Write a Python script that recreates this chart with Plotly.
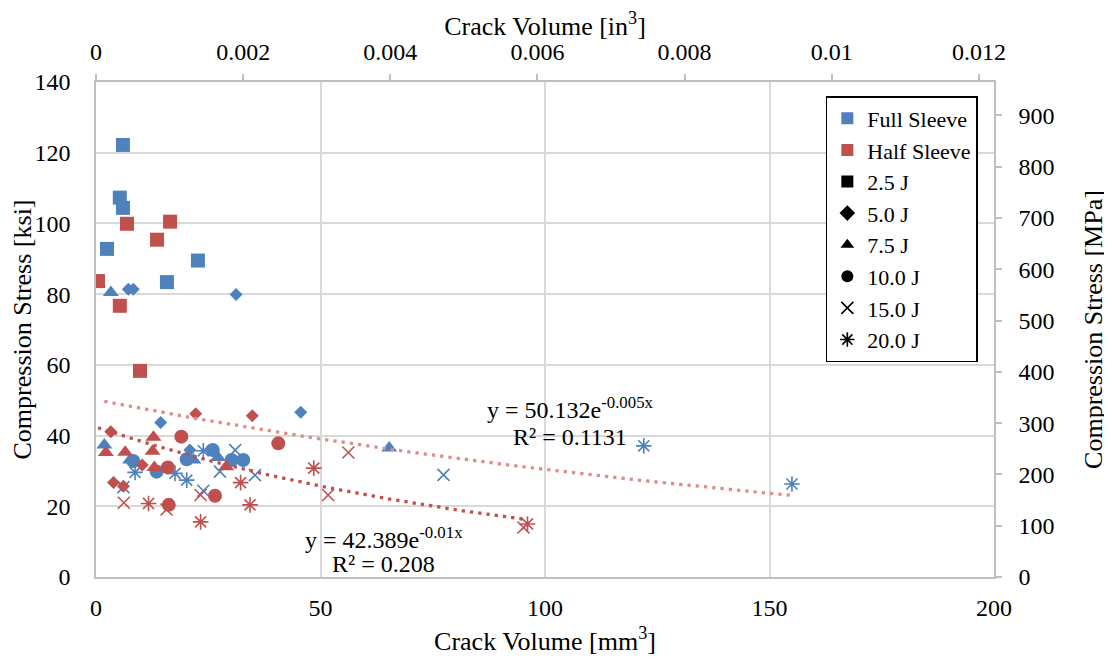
import numpy as np
import plotly.graph_objects as go

# ---------------- data (crack volume mm^3, stress ksi) ----------------
energies = ["2.5 J", "5.0 J", "7.5 J", "10.0 J", "15.0 J", "20.0 J"]

full_x = {
    "2.5 J": [6.0, 5.3, 6.0, 2.45, 22.7, 15.8],
    "5.0 J": [7.2, 8.3, 31.2, 45.6, 14.4, 20.9],
    "7.5 J": [3.3, 1.85, 7.6, 21.7, 27.2, 65.3],
    "10.0 J": [8.3, 13.5, 20.2, 26.0, 30.2, 32.8],
    "15.0 J": [31.0, 27.6, 35.4, 6.1, 23.9, 77.4],
    "20.0 J": [23.9, 8.7, 17.6, 20.2, 122.0, 155.0],
}
full_y = {
    "2.5 J": [122.2, 107.3, 104.4, 92.8, 89.5, 83.4],
    "5.0 J": [81.4, 81.4, 79.9, 46.6, 43.7, 35.9],
    "7.5 J": [80.5, 37.3, 33.1, 33.1, 33.8, 36.5],
    "10.0 J": [32.8, 29.8, 33.3, 35.9, 33.1, 33.1],
    "15.0 J": [35.9, 29.8, 28.8, 25.4, 24.4, 28.9],
    "20.0 J": [35.7, 29.6, 29.3, 27.4, 37.1, 26.3],
}
half_x = {
    "2.5 J": [6.9, 16.5, 13.6, 0.45, 5.3, 9.8],
    "5.0 J": [22.2, 34.8, 3.3, 10.3, 3.9, 6.1],
    "7.5 J": [12.8, 2.2, 6.5, 12.6, 29.0, 13.0],
    "10.0 J": [19.0, 40.6, 16.0, 26.5, 16.2],
    "15.0 J": [56.2, 51.7, 23.3, 6.2, 15.7, 95.2],
    "20.0 J": [48.5, 32.2, 11.7, 34.3, 23.3, 96.1],
}
half_y = {
    "2.5 J": [99.9, 100.5, 95.4, 83.7, 76.7, 58.3],
    "5.0 J": [46.2, 45.6, 41.1, 31.7, 26.7, 25.7],
    "7.5 J": [39.5, 35.2, 35.3, 35.6, 31.2, 31.0],
    "10.0 J": [39.7, 37.8, 31.0, 23.0, 20.4],
    "15.0 J": [35.2, 23.2, 23.2, 21.0, 19.1, 14.0],
    "20.0 J": [30.8, 26.7, 20.8, 20.4, 15.6, 15.0],
}

# exponential trendlines shown on chart: y = a * exp(b x)
full_fit = {"a": 50.132, "b": -0.005, "r2": "0.1131"}
half_fit = {"a": 42.389, "b": -0.01, "r2": "0.208"}

x_range = [0, 200]
y_range = [0, 140]
MM3_PER_IN3 = 16387.064
MPA_PER_KSI = 6.894757

BLUE = "#4F81BD"
RED = "#C0504D"
FIT_FULL = "#E08C8B"
FIT_HALF = "#C0504D"
FONT = "Liberation Serif, Times New Roman, serif"

symbols = {
    "2.5 J": ("square", 14, 0),
    "5.0 J": ("diamond", 10, 0),
    "7.5 J": ("triangle-up", 14, 0),
    "10.0 J": ("circle", 14, 0),
    "15.0 J": ("x-thin-open", 12, 1.6),
    "20.0 J": ("asterisk-open", 13, 1.6),
}

fig = go.Figure()


def add_group(xs, ys, color):
    for e in energies:
        sym, size, lw = symbols[e]
        marker = dict(symbol=sym, size=size, color=color)
        if lw:
            marker["line"] = dict(color=color, width=lw)
        else:
            marker["line"] = dict(width=0)
        fig.add_trace(go.Scatter(x=xs[e], y=ys[e], mode="markers", marker=marker,
                                 showlegend=False, hoverinfo="x+y"))


add_group(full_x, full_y, BLUE)
add_group(half_x, half_y, RED)


def add_fit(xs, fit, color):
    allx = [v for e in energies for v in xs[e]]
    xx = np.linspace(min(allx), max(allx), 200)
    yy = fit["a"] * np.exp(fit["b"] * xx)
    fig.add_trace(go.Scatter(x=xx, y=yy, mode="lines",
                             line=dict(color=color, width=3.3, dash="3.3px,5px"),
                             showlegend=False, hoverinfo="skip"))


add_fit(full_x, full_fit, FIT_FULL)
add_fit(half_x, half_fit, FIT_HALF)

# legend entries
fig.add_trace(go.Scatter(x=[None], y=[None], mode="markers", name="Full Sleeve",
                         marker=dict(symbol="square", size=12, color=BLUE)))
fig.add_trace(go.Scatter(x=[None], y=[None], mode="markers", name="Half Sleeve",
                         marker=dict(symbol="square", size=12, color=RED)))
for e in energies:
    sym, size, lw = symbols[e]
    m = dict(symbol=sym, size=12, color="black")
    if lw:
        m["line"] = dict(color="black", width=1.6)
    fig.add_trace(go.Scatter(x=[None], y=[None], mode="markers", name=e, marker=m))

# invisible anchors so secondary axes are drawn
fig.add_trace(go.Scatter(x=[0], y=[0], xaxis="x2", yaxis="y", mode="markers",
                         marker=dict(opacity=0), showlegend=False, hoverinfo="skip"))
fig.add_trace(go.Scatter(x=[0], y=[0], xaxis="x", yaxis="y2", mode="markers",
                         marker=dict(opacity=0), showlegend=False, hoverinfo="skip"))

ann_font = dict(family=FONT, size=24, color="black")
annotations = [
    dict(x=105.6, y=47.8, text="y = %.3fe<sup>%gx</sup>" % (full_fit["a"], full_fit["b"])),
    dict(x=105.6, y=39.6, text="R² = " + full_fit["r2"]),
    dict(x=64.1, y=11.0, text="y = %.3fe<sup>%gx</sup>" % (half_fit["a"], half_fit["b"])),
    dict(x=64.1, y=3.7, text="R² = " + half_fit["r2"]),
]
for a in annotations:
    a.update(xref="x", yref="y", showarrow=False, font=ann_font,
             xanchor="center", yanchor="middle")

tick_font = dict(family=FONT, size=24, color="black")
title_font = dict(family=FONT, size=26, color="black")
GRID = "#D9D9D9"
AXL = "#BFBFBF"

top_ticks = [0, 0.002, 0.004, 0.006, 0.008, 0.01, 0.012]

fig.update_layout(
    width=1104, height=653,
    margin=dict(l=88, r=118, t=74, b=84, autoexpand=False),
    paper_bgcolor="white", plot_bgcolor="white",
    font=dict(family=FONT, color="black"),
    annotations=annotations,
    xaxis=dict(range=x_range, dtick=50, showgrid=True, gridcolor=GRID, gridwidth=1.5,
               zeroline=False, showline=True, linecolor=AXL, linewidth=1.5,
               ticks="", tickfont=tick_font, ticklabelstandoff=8,
               title=dict(text="Crack Volume [mm<sup>3</sup>]", font=title_font, standoff=12)),
    xaxis2=dict(range=[x_range[0] / MM3_PER_IN3, x_range[1] / MM3_PER_IN3],
                overlaying="x", side="top", anchor="y",
                tickvals=top_ticks, ticktext=["%g" % t for t in top_ticks],
                showgrid=False, zeroline=False, showline=True, linecolor=AXL, linewidth=1.5,
                ticks="outside", ticklen=6, tickcolor=AXL, tickwidth=1.5,
                tickfont=tick_font, ticklabelstandoff=5,
                title=dict(text="Crack Volume [in<sup>3</sup>]", font=title_font, standoff=17)),
    yaxis=dict(range=y_range, dtick=20, showgrid=True, gridcolor=GRID, gridwidth=1.5,
               zeroline=False, showline=True, linecolor=AXL, linewidth=1.5,
               ticks="", tickfont=tick_font, ticklabelstandoff=19,
               title=dict(text="Compression Stress [ksi]", font=title_font, standoff=3)),
    yaxis2=dict(range=[y_range[0] * MPA_PER_KSI, y_range[1] * MPA_PER_KSI],
                overlaying="y", side="right", anchor="x", dtick=100,
                showgrid=False, zeroline=False, showline=True, linecolor=AXL, linewidth=1.5,
                ticks="outside", ticklen=6, tickcolor=AXL, tickwidth=1.5,
                tickfont=tick_font, ticklabelstandoff=12,
                title=dict(text="Compression Stress [MPa]", font=title_font, standoff=30)),
    legend=dict(x=0.982, y=0.9717, xanchor="right", yanchor="top",
                bgcolor="white", bordercolor="black", borderwidth=1.5,
                font=dict(family=FONT, size=22, color="black"),
                itemwidth=30, tracegroupgap=0),
    showlegend=True,
)

fig.write_html("out.html")
